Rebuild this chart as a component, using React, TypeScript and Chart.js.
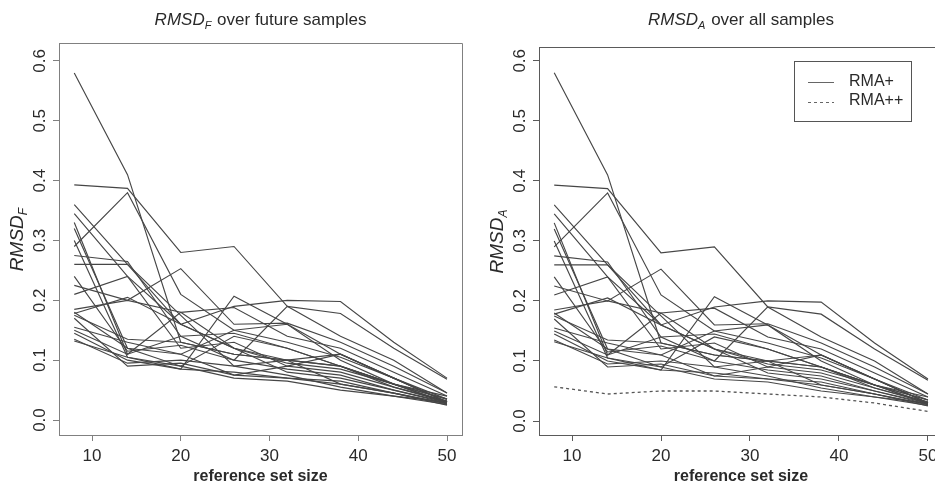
import React, { useEffect, useRef } from "react";
import { Chart, registerables } from "chart.js";

Chart.register(...registerables);

// reference set sizes (x positions of every run)
const sizes = [8, 14, 20, 26, 32, 38, 44, 50];
const xTicks = [10, 20, 30, 40, 50];
const yTicks = [0, 0.1, 0.2, 0.3, 0.4, 0.5, 0.6];

// RMA+ runs (one line per run)
const run01 = [0.58, 0.41, 0.13, 0.11, 0.1, 0.09, 0.06, 0.035];
const run02 = [0.393, 0.387, 0.28, 0.29, 0.19, 0.14, 0.1, 0.045];
const run03 = [0.29, 0.38, 0.21, 0.15, 0.13, 0.105, 0.07, 0.03];
const run04 = [0.36, 0.26, 0.16, 0.19, 0.2, 0.198, 0.13, 0.07];
const run05 = [0.345, 0.24, 0.16, 0.12, 0.1, 0.11, 0.07, 0.03];
const run06 = [0.33, 0.11, 0.18, 0.188, 0.14, 0.12, 0.08, 0.04];
const run07 = [0.3, 0.105, 0.085, 0.207, 0.16, 0.11, 0.07, 0.03];
const run08 = [0.275, 0.265, 0.14, 0.1, 0.19, 0.178, 0.12, 0.068];
const run09 = [0.26, 0.26, 0.175, 0.09, 0.1, 0.09, 0.06, 0.028];
const run10 = [0.225, 0.2, 0.253, 0.16, 0.162, 0.13, 0.09, 0.045];
const run11 = [0.21, 0.24, 0.12, 0.13, 0.09, 0.11, 0.07, 0.035];
const run12 = [0.18, 0.12, 0.11, 0.15, 0.16, 0.1, 0.06, 0.03];
const run13 = [0.178, 0.205, 0.16, 0.12, 0.08, 0.07, 0.05, 0.028];
const run14 = [0.175, 0.135, 0.13, 0.11, 0.1, 0.06, 0.045, 0.027];
const run15 = [0.155, 0.13, 0.11, 0.075, 0.09, 0.08, 0.055, 0.03];
const run16 = [0.145, 0.1, 0.085, 0.08, 0.07, 0.065, 0.045, 0.028];
const run17 = [0.135, 0.095, 0.1, 0.09, 0.075, 0.055, 0.04, 0.026];
const run18 = [0.132, 0.105, 0.09, 0.07, 0.065, 0.05, 0.04, 0.03];
const run19 = [0.32, 0.12, 0.09, 0.14, 0.12, 0.09, 0.055, 0.032];
const run20 = [0.24, 0.115, 0.125, 0.1, 0.085, 0.075, 0.05, 0.03];
const run21 = [0.17, 0.09, 0.095, 0.075, 0.07, 0.06, 0.045, 0.025];
const run22 = [0.185, 0.2, 0.18, 0.12, 0.095, 0.085, 0.06, 0.035];
const run23 = [0.15, 0.11, 0.14, 0.145, 0.12, 0.09, 0.06, 0.04];

const rmaPlusRuns = [
  run01, run02, run03, run04, run05, run06, run07, run08, run09, run10, run11,
  run12, run13, run14, run15, run16, run17, run18, run19, run20, run21, run22, run23,
];

// RMA++ (dashed, right panel only)
const rmaPlusPlus = [0.057, 0.045, 0.05, 0.05, 0.045, 0.04, 0.03, 0.016];

const FONT = "'Liberation Sans', Arial, Helvetica, sans-serif";
const TEXT = "#2a2a2a";

type PanelCfg = {
  sub: string;
  rest: string;
  yMin: number;
  yMax: number;
  xMin: number;
  xMax: number;
  padTop: number;
  padRight: number;
  legend: boolean;
  boxColor: string;
};

function drawMathLabel(
  ctx: CanvasRenderingContext2D,
  sub: string,
  rest: string,
  cx: number,
  cy: number,
  size: number
) {
  const mainFont = `italic ${size}px ${FONT}`;
  const subFont = `italic ${Math.round(size * 0.62)}px ${FONT}`;
  const restFont = `${size}px ${FONT}`;
  ctx.font = mainFont;
  const w1 = ctx.measureText("RMSD").width;
  ctx.font = subFont;
  const w2 = ctx.measureText(sub).width;
  ctx.font = restFont;
  const w3 = rest ? ctx.measureText(rest).width : 0;
  const total = w1 + w2 + 1 + w3;
  let x = cx - total / 2;
  ctx.textAlign = "left";
  ctx.textBaseline = "middle";
  ctx.font = mainFont;
  ctx.fillText("RMSD", x, cy);
  x += w1;
  ctx.font = subFont;
  ctx.fillText(sub, x, cy + size * 0.32);
  x += w2 + 1;
  if (rest) {
    ctx.font = restFont;
    ctx.fillText(rest, x, cy);
  }
}

function makeDecor(cfg: PanelCfg) {
  return {
    id: "decor",
    afterDraw(chart: any) {
      const ctx: CanvasRenderingContext2D = chart.ctx;
      const a = chart.chartArea;
      const xs = chart.scales.x;
      const ys = chart.scales.y;
      ctx.save();
      // top and right sides of the box
      ctx.strokeStyle = cfg.boxColor;
      ctx.lineWidth = 1;
      ctx.beginPath();
      ctx.moveTo(Math.round(a.left) + 0.5, Math.round(a.top) + 0.5);
      ctx.lineTo(Math.round(a.right) + 0.5, Math.round(a.top) + 0.5);
      ctx.lineTo(Math.round(a.right) + 0.5, Math.round(a.bottom) + 0.5);
      ctx.stroke();

      ctx.fillStyle = TEXT;
      // y tick labels (rotated, as in R)
      ctx.font = `17px ${FONT}`;
      ctx.textAlign = "center";
      ctx.textBaseline = "middle";
      for (const v of yTicks) {
        const py = ys.getPixelForValue(v);
        ctx.save();
        ctx.translate(a.left - 19, py);
        ctx.rotate(-Math.PI / 2);
        ctx.fillText(v.toFixed(1), 0, 0);
        ctx.restore();
      }
      // x tick labels
      for (const v of xTicks) {
        const px = xs.getPixelForValue(v);
        ctx.fillText(String(v), px, 456);
      }
      // x title
      const cx = (a.left + a.right) / 2;
      ctx.font = `bold 16px ${FONT}`;
      ctx.fillText("reference set size", cx, 477);
      // main title
      drawMathLabel(ctx, cfg.sub, cfg.rest, cx, 20, 17);
      // y title
      ctx.save();
      ctx.translate(a.left - 41, (a.top + a.bottom) / 2);
      ctx.rotate(-Math.PI / 2);
      drawMathLabel(ctx, cfg.sub, "", 0, 0, 19);
      ctx.restore();

      if (cfg.legend) {
        const lx = 314;
        const ly = 61;
        ctx.strokeStyle = "#555";
        ctx.lineWidth = 1;
        ctx.strokeRect(lx + 0.5, ly + 0.5, 117, 60);
        ctx.beginPath();
        ctx.strokeStyle = "#666";
        ctx.moveTo(lx + 14, ly + 21.5);
        ctx.lineTo(lx + 40, ly + 21.5);
        ctx.stroke();
        ctx.beginPath();
        ctx.setLineDash([3, 3]);
        ctx.moveTo(lx + 14, ly + 41.5);
        ctx.lineTo(lx + 40, ly + 41.5);
        ctx.stroke();
        ctx.setLineDash([]);
        ctx.font = `16px ${FONT}`;
        ctx.textAlign = "left";
        ctx.fillStyle = TEXT;
        ctx.fillText("RMA+", lx + 55, ly + 21);
        ctx.fillText("RMA++", lx + 55, ly + 40);
      }
      ctx.restore();
    },
  };
}

function Panel({ cfg, withPlusPlus, left }: { cfg: PanelCfg; withPlusPlus: boolean; left: number }) {
  const ref = useRef<HTMLCanvasElement | null>(null);
  useEffect(() => {
    if (!ref.current) return;
    const datasets: any[] = rmaPlusRuns.map((run, i) => ({
      label: `run ${i + 1}`,
      data: sizes.map((s, j) => ({ x: s, y: run[j] })),
      borderColor: "#464646",
      borderWidth: 1.15,
      pointRadius: 0,
      tension: 0,
      fill: false,
    }));
    if (withPlusPlus) {
      datasets.push({
        label: "RMA++",
        data: sizes.map((s, j) => ({ x: s, y: rmaPlusPlus[j] })),
        borderColor: "#555",
        borderWidth: 1.3,
        borderDash: [3, 3],
        pointRadius: 0,
        tension: 0,
        fill: false,
      });
    }
    const chart = new Chart(ref.current, {
      type: "line",
      data: { datasets },
      options: {
        animation: false,
        responsive: false,
        devicePixelRatio: 1,
        layout: { padding: { top: cfg.padTop, right: cfg.padRight, left: 0, bottom: 0 } },
        plugins: { legend: { display: false }, tooltip: { enabled: false }, title: { display: false } },
        scales: {
          x: {
            type: "linear",
            min: cfg.xMin,
            max: cfg.xMax,
            afterBuildTicks: (s: any) => {
              s.ticks = xTicks.map((v) => ({ value: v }));
            },
            afterFit: (s: any) => {
              s.height = 51;
            },
            ticks: { display: false },
            grid: { drawOnChartArea: false, drawTicks: true, tickLength: 6, color: cfg.boxColor },
            border: { display: true, color: cfg.boxColor },
          },
          y: {
            type: "linear",
            min: cfg.yMin,
            max: cfg.yMax,
            afterBuildTicks: (s: any) => {
              s.ticks = yTicks.map((v) => ({ value: v }));
            },
            afterFit: (s: any) => {
              s.width = 59;
            },
            ticks: { display: false },
            grid: { drawOnChartArea: false, drawTicks: true, tickLength: 6, color: cfg.boxColor },
            border: { display: true, color: cfg.boxColor },
          },
        },
      },
      plugins: [makeDecor(cfg)],
    });
    return () => chart.destroy();
  }, []);
  return (
    <canvas
      ref={ref}
      width={470}
      height={486}
      style={{ position: "absolute", left, top: 0, width: 470, height: 486 }}
    />
  );
}

const leftCfg: PanelCfg = {
  sub: "F",
  rest: " over future samples",
  yMin: -0.025,
  yMax: 0.63,
  xMin: 6.28,
  xMax: 51.69,
  padTop: 43,
  padRight: 8,
  legend: false,
  boxColor: "#808080",
};

const rightCfg: PanelCfg = {
  sub: "A",
  rest: " over all samples",
  yMin: -0.0233,
  yMax: 0.623,
  xMin: 6.29,
  xMax: 51.69,
  padTop: 47,
  padRight: 7,
  legend: true,
  boxColor: "#5a5a5a",
};

export default function App() {
  return (
    <div
      style={{
        position: "absolute",
        left: 0,
        top: 0,
        width: 935,
        height: 486,
        overflow: "hidden",
        background: "#fff",
      }}
    >
      <Panel cfg={leftCfg} withPlusPlus={false} left={0} />
      <Panel cfg={rightCfg} withPlusPlus={true} left={480} />
    </div>
  );
}
